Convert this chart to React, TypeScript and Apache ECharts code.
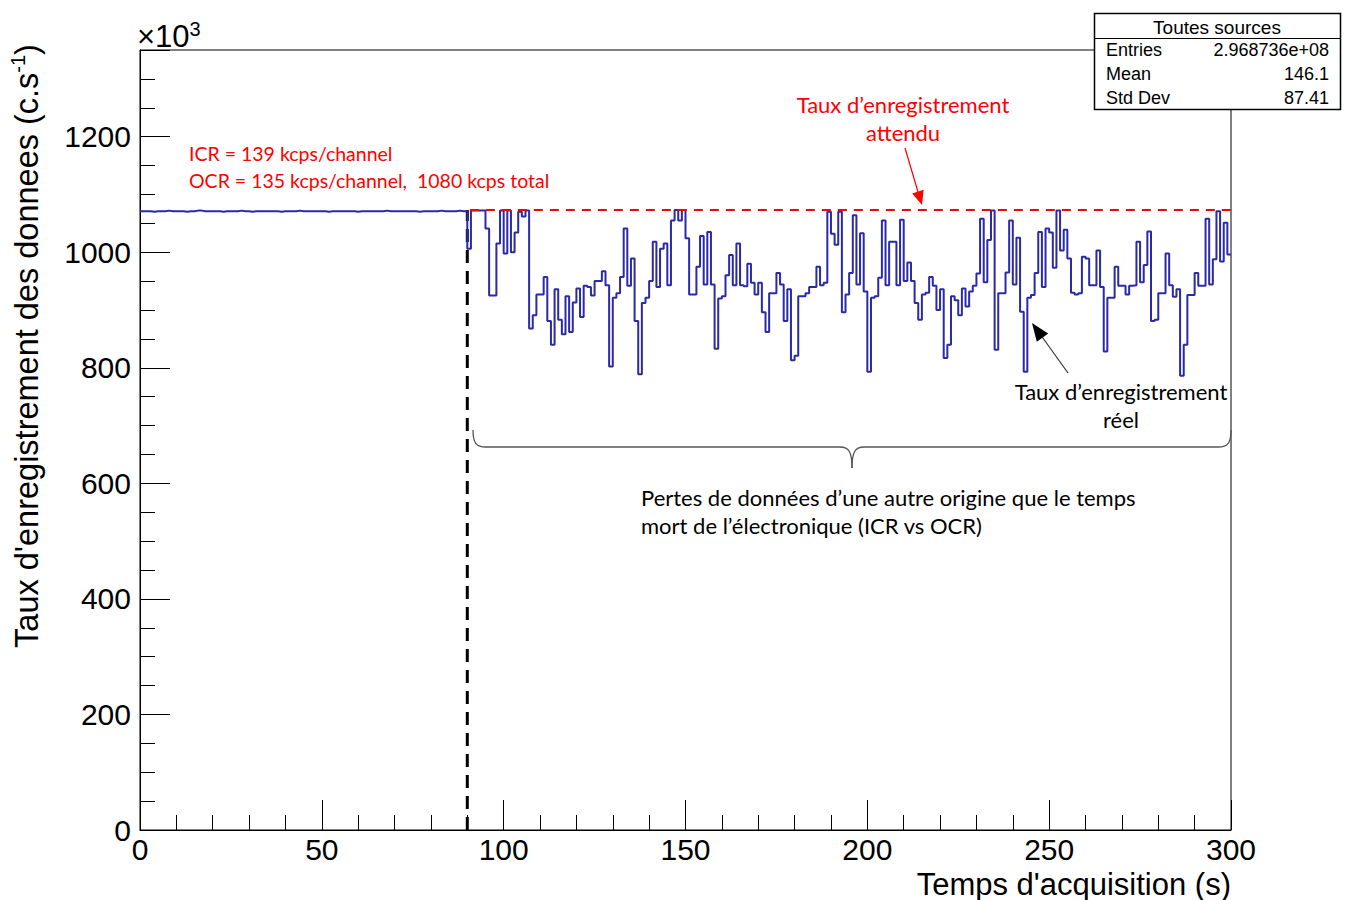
import React, { useEffect, useRef } from "react";
import * as echarts from "echarts";

// Rate (x10^3 c/s) per 1 s bin, t = 0..89 s (stable regime)
const stableRate = [
  1071, 1071, 1071, 1070, 1071, 1071, 1071, 1072, 1071, 1071,
  1071, 1071, 1070, 1071, 1071, 1072, 1072, 1071, 1071, 1071,
  1071, 1071, 1070, 1071, 1071, 1071, 1071, 1072, 1071, 1071,
  1070, 1071, 1071, 1071, 1071, 1071, 1071, 1071, 1070, 1071,
  1071, 1071, 1071, 1072, 1071, 1071, 1071, 1071, 1071, 1071,
  1071, 1070, 1071, 1071, 1071, 1071, 1071, 1071, 1071, 1070,
  1071, 1071, 1071, 1071, 1071, 1071, 1071, 1072, 1071, 1071,
  1071, 1071, 1071, 1071, 1071, 1071, 1070, 1071, 1071, 1071,
  1071, 1071, 1072, 1071, 1071, 1071, 1071, 1072, 1071, 1071,
];

// Rate per 1 s bin, t = 90..299 s (with data losses)
const lossRate = [
  1006, 1072, 1072, 1072, 1072, 1041, 925, 925, 1015, 1072,
  998, 1072, 1000, 1034, 1070, 1062, 1072, 868, 891, 927,
  927, 957, 881, 840, 936, 883, 858, 924, 862, 913,
  937, 888, 942, 940, 925, 950, 950, 967, 943, 802,
  921, 929, 957, 1041, 942, 989, 881, 789, 912, 921,
  950, 1018, 940, 1006, 1015, 943, 1055, 1073, 1055, 1073,
  1024, 927, 927, 975, 1028, 944, 1035, 944, 833, 920,
  924, 960, 995, 943, 1015, 943, 941, 980, 947, 927,
  947, 896, 862, 929, 929, 964, 944, 881, 936, 813,
  821, 924, 924, 929, 940, 940, 975, 943, 947, 1070,
  1032, 1013, 1070, 896, 927, 964, 1064, 944, 1033, 932,
  793, 921, 924, 956, 1055, 943, 1018, 1018, 943, 1056,
  950, 982, 950, 912, 883, 927, 930, 957, 942, 900,
  936, 817, 840, 924, 917, 891, 937, 906, 932, 942,
  963, 1058, 948, 1021, 1072, 831, 929, 929, 965, 1055,
  944, 1025, 897, 793, 921, 926, 964, 1035, 940, 1041,
  1034, 973, 1072, 1003, 1039, 989, 930, 927, 929, 992,
  989, 943, 943, 1003, 940, 828, 921, 921, 975, 942,
  942, 927, 942, 943, 1018, 948, 978, 1036, 881, 883,
  929, 929, 998, 943, 923, 936, 786, 840, 926, 926,
  964, 942, 942, 1058, 944, 988, 1071, 984, 1051, 996,
];

const binStart = 0;
const binWidth = 1;
const lossStart = 90;
const expectedRate = 1073;
const xMax = 300;
const yMax = 1350;

const xTitle = "Temps d'acquisition (s)";
const yTitle = "Taux d'enregistrement des donnees (c.s";
const statsTitle = "Toutes sources";
const statsLabels = ["Entries", "Mean", "Std Dev"];
const statsValues = ["2.968736e+08", "146.1", "87.41"];
const redNotes = ["ICR = 139 kcps/channel", "OCR = 135 kcps/channel,  1080 kcps total"];
const expectedNote = ["Taux d\u2019enregistrement", "attendu"];
const realNote = ["Taux d\u2019enregistrement", "r\u00e9el"];
const lossNote = [
  "Pertes de donn\u00e9es d\u2019une autre origine que le temps",
  "mort de l\u2019\u00e9lectronique (ICR vs OCR)",
];

const ROOT_FONT = "'Liberation Sans', Arial, Helvetica, sans-serif";
const NOTE_FONT = "Lato, 'Open Sans', sans-serif";

export default function App() {
  const ref = useRef<HTMLDivElement>(null);

  useEffect(() => {
    if (!ref.current) return;
    const chart = echarts.init(ref.current, null, { renderer: "svg" });

    const rates = [...stableRate, ...lossRate];
    const histData: number[][] = rates.map((v, i) => [binStart + i * binWidth, v]);
    histData.push([binStart + rates.length * binWidth, rates[rates.length - 1]]);

    const noteText = (x: number, y: number, text: string, color: string, size: number, align = "left") => ({
      type: "text",
      x,
      y,
      z: 100,
      style: {
        text,
        fill: color,
        font: `${size}px ${NOTE_FONT}`,
        textAlign: align,
        textVerticalAlign: "middle",
      },
    });

    const statsText = (x: number, y: number, text: string, align: string, size = 18) => ({
      type: "text",
      x,
      y,
      z: 201,
      style: {
        text,
        fill: "#000",
        font: `${size}px ${ROOT_FONT}`,
        textAlign: align,
        textVerticalAlign: "middle",
      },
    });

    const graphic: any[] = [
      // y axis title (rotated)
      {
        type: "text",
        x: 27,
        y: 346,
        rotation: Math.PI / 2,
        z: 100,
        style: {
          text: `{a|${yTitle}}{b|-1}{a|)}`,
          textAlign: "center",
          textVerticalAlign: "middle",
          rich: {
            a: { fontSize: 32.5, fontFamily: ROOT_FONT, fill: "#000", color: "#000", lineHeight: 38 },
            b: { fontSize: 20, fontFamily: ROOT_FONT, fill: "#000", color: "#000", verticalAlign: "top", lineHeight: 38 },
          },
        },
      },
      // x axis title
      {
        type: "text",
        x: 1231,
        y: 884,
        z: 100,
        style: {
          text: xTitle,
          fill: "#000",
          font: `31px ${ROOT_FONT}`,
          textAlign: "right",
          textVerticalAlign: "middle",
        },
      },
      // x10^3 multiplier
      {
        type: "text",
        x: 137,
        y: 36,
        z: 100,
        style: {
          text: "{a|\u00d710}{b|3}",
          textAlign: "left",
          textVerticalAlign: "middle",
          rich: {
            a: { fontSize: 31, fontFamily: ROOT_FONT, fill: "#000", color: "#000", lineHeight: 34 },
            b: { fontSize: 20, fontFamily: ROOT_FONT, fill: "#000", color: "#000", verticalAlign: "top", lineHeight: 34 },
          },
        },
      },
      // stats box
      {
        type: "rect",
        z: 200,
        shape: { x: 1094.5, y: 13.5, width: 246, height: 96 },
        style: { fill: "#fff", stroke: "#000", lineWidth: 1.5 },
      },
      {
        type: "line",
        z: 201,
        shape: { x1: 1094.5, y1: 38.5, x2: 1340.5, y2: 38.5 },
        style: { stroke: "#000", lineWidth: 1.2 },
      },
      statsText(1217, 27, statsTitle, "center", 19),
      ...statsLabels.map((l, i) => statsText(1106, 50 + i * 24, l, "left")),
      ...statsValues.map((v, i) => statsText(1329, 50 + i * 24, v, "right")),
      // red notes
      noteText(189, 153, redNotes[0], "#ff0000", 19.5),
      noteText(189, 180, redNotes[1], "#ff0000", 19.5),
      noteText(903, 104, expectedNote[0], "#ff0000", 22, "center"),
      noteText(903, 132, expectedNote[1], "#ff0000", 22, "center"),
      // red arrow
      {
        type: "line",
        z: 100,
        shape: { x1: 905, y1: 148, x2: 918, y2: 192 },
        style: { stroke: "#ff0000", lineWidth: 1.2 },
      },
      {
        type: "polygon",
        z: 100,
        shape: { points: [[922, 205], [912.2, 193.4], [923.6, 189.8]] },
        style: { fill: "#ff0000" },
      },
      // black notes
      noteText(1121, 391, realNote[0], "#000", 22, "center"),
      noteText(1121, 419, realNote[1], "#000", 22, "center"),
      {
        type: "line",
        z: 100,
        shape: { x1: 1068, y1: 373, x2: 1040, y2: 334 },
        style: { stroke: "#333", lineWidth: 1.2 },
      },
      {
        type: "polygon",
        z: 100,
        shape: { points: [[1032, 323], [1048.2, 333.5], [1036.8, 341.7]] },
        style: { fill: "#000" },
      },
      // brace
      {
        type: "bezierCurve",
        z: 100,
        shape: { x1: 473, y1: 430, cpx1: 473, cpy1: 443, cpx2: 476, cpy2: 447, x2: 486, y2: 447 },
        style: { stroke: "#555", lineWidth: 1.3, fill: "none" },
      },
      {
        type: "line",
        z: 100,
        shape: { x1: 486, y1: 447, x2: 840, y2: 447 },
        style: { stroke: "#555", lineWidth: 1.3 },
      },
      {
        type: "bezierCurve",
        z: 100,
        shape: { x1: 840, y1: 447, cpx1: 849, cpy1: 447, cpx2: 852, cpy2: 452, x2: 852, y2: 468 },
        style: { stroke: "#555", lineWidth: 1.3, fill: "none" },
      },
      {
        type: "bezierCurve",
        z: 100,
        shape: { x1: 852, y1: 468, cpx1: 852, cpy1: 452, cpx2: 855, cpy2: 447, x2: 864, y2: 447 },
        style: { stroke: "#555", lineWidth: 1.3, fill: "none" },
      },
      {
        type: "line",
        z: 100,
        shape: { x1: 864, y1: 447, x2: 1218, y2: 447 },
        style: { stroke: "#555", lineWidth: 1.3 },
      },
      {
        type: "bezierCurve",
        z: 100,
        shape: { x1: 1218, y1: 447, cpx1: 1228, cpy1: 447, cpx2: 1231, cpy2: 443, x2: 1231, y2: 430 },
        style: { stroke: "#555", lineWidth: 1.3, fill: "none" },
      },
      noteText(641, 497, lossNote[0], "#000", 22),
      noteText(641, 525, lossNote[1], "#000", 22),
    ];

    chart.setOption({
      animation: false,
      backgroundColor: "#fff",
      grid: {
        left: 140,
        top: 50,
        width: 1091,
        height: 780,
        show: true,
        borderColor: "#000",
        borderWidth: 1,
        backgroundColor: "transparent",
      },
      xAxis: {
        type: "value",
        min: 0,
        max: xMax,
        interval: 50,
        axisLine: { show: true, onZero: false, lineStyle: { color: "#000", width: 1 } },
        axisTick: { show: true, inside: true, length: 30, lineStyle: { color: "#000", width: 1 } },
        minorTick: { show: true, splitNumber: 5, length: 15, lineStyle: { color: "#000", width: 1 } },
        axisLabel: { color: "#000", fontSize: 30, fontFamily: ROOT_FONT, margin: 4 },
        splitLine: { show: false },
        minorSplitLine: { show: false },
      },
      yAxis: [
        {
          type: "value",
          min: 0,
          max: yMax,
          interval: 50,
          position: "left",
          axisLine: { show: true, onZero: false, lineStyle: { color: "#000", width: 1 } },
          axisTick: { show: true, inside: true, length: 15, lineStyle: { color: "#000", width: 1 } },
          axisLabel: { show: false },
          splitLine: { show: false },
        },
        {
          type: "value",
          min: 0,
          max: yMax,
          interval: 200,
          position: "left",
          axisLine: { show: false },
          axisTick: { show: true, inside: true, length: 30, lineStyle: { color: "#000", width: 1 } },
          axisLabel: {
            color: "#000",
            fontSize: 30,
            fontFamily: ROOT_FONT,
            margin: 9,
            formatter: (v: number) => (v % 200 === 0 ? String(v) : ""),
          },
          splitLine: { show: false },
        },
      ],
      series: [
        {
          type: "line",
          name: "hist",
          yAxisIndex: 1,
          step: "end",
          data: histData,
          showSymbol: false,
          symbol: "none",
          lineStyle: { color: "#2a2aa8", width: 2 },
          z: 10,
        },
        {
          type: "line",
          name: "expected",
          yAxisIndex: 1,
          data: [
            [lossStart + 0.7, expectedRate],
            [xMax, expectedRate],
          ],
          showSymbol: false,
          symbol: "none",
          lineStyle: { color: "#ff0000", width: 2, type: [9, 7] },
          z: 11,
        },
        {
          type: "line",
          name: "start",
          yAxisIndex: 1,
          data: [
            [lossStart, 0],
            [lossStart, expectedRate],
          ],
          showSymbol: false,
          symbol: "none",
          lineStyle: { color: "#000", width: 3, type: [13, 8] },
          z: 9,
        },
      ],
      graphic,
    });

    return () => chart.dispose();
  }, []);

  return (
    <div
      ref={ref}
      style={{ position: "fixed", left: 0, top: 0, width: 1349, height: 900, background: "#fff" }}
    />
  );
}
